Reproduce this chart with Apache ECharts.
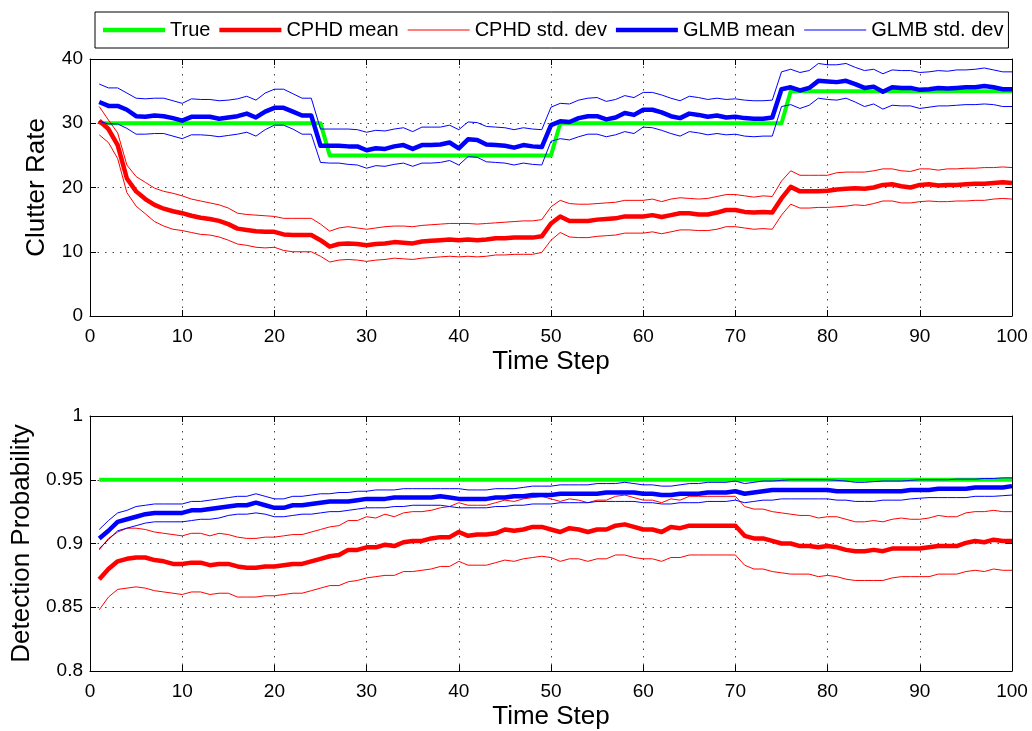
<!DOCTYPE html>
<html>
<head>
<meta charset="utf-8">
<title>Clutter rate and detection probability estimates</title>
<script src="https://cdn.jsdelivr.net/npm/echarts@6/dist/echarts.min.js"></script>
<style>
  html, body { margin: 0; padding: 0; background: #fff; }
  #chart { width: 1032px; height: 731px; }
</style>
</head>
<body>
<div id="chart"></div>
<script>
// ---- time axis ----
const timeSteps = Array.from({ length: 100 }, (_, i) => i + 1);
const xTicks = [0, 10, 20, 30, 40, 50, 60, 70, 80, 90, 100];
const clutterTicks = [0, 10, 20, 30, 40];
const pdTicks = [0.8, 0.85, 0.9, 0.95, 1];
const legendNames = ['True', 'CPHD mean', 'CPHD std. dev', 'GLMB mean', 'GLMB std. dev'];

// ---- clutter rate ----
const clutterTrue = [
  30,30,30,30,30,30,30,30,30,30, 30,30,30,30,30,30,30,30,30,30, 30,30,30,30,30,25,25,25,25,25,
  25,25,25,25,25,25,25,25,25,25, 25,25,25,25,25,25,25,25,25,25, 30,30,30,30,30,30,30,30,30,30,
  30,30,30,30,30,30,30,30,30,30, 30,30,30,30,30,35,35,35,35,35, 35,35,35,35,35,35,35,35,35,35,
  35,35,35,35,35,35,35,35,35,35
];
const clutterCphdMean = [
  30.4,29.1,26.6,21.4,19.4,18.2,17.3,16.7,16.3,16.0, 15.6,15.3,15.1,14.8,14.3,13.6,13.4,13.2,13.1,13.1,
  12.7,12.6,12.6,12.6,11.8,10.8,11.2,11.3,11.2,11.0, 11.2,11.3,11.5,11.4,11.3,11.6,11.7,11.8,11.9,11.8,
  11.9,11.8,11.9,12.1,12.1,12.2,12.2,12.2,12.4,14.4, 15.5,14.8,14.8,14.8,15.0,15.1,15.2,15.5,15.5,15.5,
  15.7,15.4,15.7,16.0,16.0,15.8,15.8,16.1,16.5,16.5, 16.2,16.1,16.2,16.1,18.3,20.1,19.4,19.4,19.4,19.5,
  19.7,19.8,19.9,19.8,20.0,20.4,20.5,20.2,20.0,20.4, 20.5,20.3,20.4,20.4,20.5,20.6,20.6,20.7,20.8,20.7
];
const clutterCphdUpper = [
  32.6,30.5,28.5,23.5,21.7,20.8,19.9,19.4,19.1,18.7, 18.2,17.9,17.6,17.3,16.8,16.0,15.8,15.7,15.6,15.5,
  15.2,15.2,15.2,15.2,14.3,13.2,13.7,13.9,13.7,13.5, 13.7,13.9,14.0,14.0,13.9,14.1,14.2,14.3,14.4,14.4,
  14.4,14.3,14.4,14.5,14.6,14.7,14.8,14.8,15.0,17.0, 18.0,17.5,17.4,17.4,17.5,17.6,17.7,18.0,18.0,18.0,
  18.2,17.8,18.2,18.4,18.3,18.2,18.3,18.6,18.9,18.9, 18.7,18.5,18.7,18.6,21.0,22.6,21.9,21.9,21.9,21.9,
  22.3,22.4,22.4,22.4,22.6,22.9,22.9,22.6,22.5,22.9, 22.9,22.7,22.9,22.9,23.0,23.0,23.1,23.1,23.2,23.1
];
const clutterCphdLower = [
  28.2,27.0,24.5,19.2,17.1,15.9,14.7,14.0,13.5,13.3, 13.0,12.7,12.6,12.3,11.8,11.2,11.0,10.7,10.6,10.7,
  10.2,10.0,10.0,10.0,9.3,8.4,8.7,8.8,8.7,8.5, 8.7,8.8,9.0,8.9,8.8,9.0,9.1,9.2,9.3,9.2,
  9.3,9.2,9.3,9.5,9.5,9.6,9.6,9.6,9.9,11.8, 13.0,12.3,12.2,12.2,12.4,12.5,12.6,12.9,12.9,12.9,
  13.1,12.8,13.1,13.4,13.4,13.3,13.3,13.5,13.9,13.9, 13.7,13.5,13.6,13.5,15.7,17.4,16.8,16.8,16.9,16.9,
  17.0,17.1,17.3,17.2,17.5,17.9,17.9,17.6,17.6,17.8, 17.9,17.8,17.8,17.9,17.9,18.0,18.0,18.2,18.3,18.2
];
const clutterGlmbMean = [
  33.3,32.7,32.7,32.1,31.1,31.0,31.2,31.1,30.8,30.4, 31.0,31.0,31.0,30.7,30.9,31.1,31.5,30.9,31.8,32.4,
  32.4,31.8,31.2,31.2,26.5,26.5,26.5,26.4,26.4,25.8, 26.1,26.0,26.4,26.6,26.0,26.6,26.6,26.7,27.0,26.1,
  27.5,27.4,26.7,26.6,26.5,26.2,26.6,26.4,26.3,29.7, 30.3,30.2,30.8,31.1,31.1,30.6,30.9,31.6,31.3,32.1,
  32.1,31.7,31.1,30.8,31.5,31.3,31.0,31.2,30.9,31.0, 30.8,30.7,30.7,30.9,35.3,35.6,35.1,35.5,36.6,36.5,
  36.4,36.6,36.1,35.5,35.7,34.9,35.6,35.5,35.5,35.2, 35.3,35.5,35.4,35.5,35.6,35.6,35.8,35.6,35.3,35.3
];
const clutterGlmbUpper = [
  36.1,35.5,35.5,34.7,33.9,33.8,33.9,33.9,33.5,33.1, 33.8,33.7,33.7,33.5,33.6,33.8,34.2,33.6,34.7,35.3,
  35.3,34.6,33.9,33.9,29.1,29.1,29.1,29.1,29.0,28.6, 28.9,28.8,29.1,29.3,28.7,29.4,29.4,29.4,29.7,29.0,
  30.2,30.1,29.5,29.4,29.3,29.0,29.3,29.1,29.0,32.5, 33.1,33.0,33.6,33.9,34.0,33.4,33.7,34.3,34.0,34.8,
  34.8,34.4,33.9,33.5,34.2,34.0,33.7,33.9,33.7,33.8, 33.6,33.5,33.5,33.6,38.0,38.4,37.9,38.2,39.3,39.1,
  39.1,39.3,38.7,38.2,38.4,37.7,38.3,38.2,38.2,37.9, 38.0,38.2,38.1,38.3,38.3,38.4,38.6,38.3,38.0,38.0
];
const clutterGlmbLower = [
  30.3,29.9,29.9,29.2,28.3,28.3,28.4,28.4,28.0,27.6, 28.2,28.2,28.1,27.9,28.1,28.3,28.6,28.0,29.0,29.7,
  29.7,29.1,28.3,28.3,23.9,23.8,23.8,23.6,23.5,23.0, 23.4,23.3,23.6,23.8,23.3,23.8,23.8,23.9,24.2,23.5,
  24.8,24.7,24.0,23.9,23.8,23.5,23.8,23.6,23.5,27.2, 27.6,27.4,27.9,28.3,28.3,27.9,28.2,28.7,28.4,29.4,
  29.3,28.9,28.4,28.0,28.7,28.5,28.2,28.4,28.2,28.3, 28.0,27.9,28.0,28.0,32.6,32.9,32.3,32.8,33.9,33.7,
  33.6,33.9,33.3,32.6,33.0,32.2,32.8,32.7,32.7,32.3, 32.5,32.7,32.7,32.8,32.9,32.9,33.0,32.9,32.6,32.6
];

// ---- detection probability ----
const pdTrue = [
  0.95,0.95,0.95,0.95,0.95,0.95,0.95,0.95,0.95,0.95, 0.95,0.95,0.95,0.95,0.95,0.95,0.95,0.95,0.95,0.95,
  0.95,0.95,0.95,0.95,0.95,0.95,0.95,0.95,0.95,0.95, 0.95,0.95,0.95,0.95,0.95,0.95,0.95,0.95,0.95,0.95,
  0.95,0.95,0.95,0.95,0.95,0.95,0.95,0.95,0.95,0.95, 0.95,0.95,0.95,0.95,0.95,0.95,0.95,0.95,0.95,0.95,
  0.95,0.95,0.95,0.95,0.95,0.95,0.95,0.95,0.95,0.95, 0.95,0.95,0.95,0.95,0.95,0.95,0.95,0.95,0.95,0.95,
  0.95,0.95,0.95,0.95,0.95,0.95,0.95,0.95,0.95,0.95, 0.95,0.95,0.95,0.95,0.95,0.95,0.95,0.95,0.95,0.95
];
const pdCphdMean = [
  0.872,0.880,0.886,0.888,0.889,0.889,0.887,0.886,0.884,0.884, 0.885,0.885,0.883,0.884,0.884,0.882,0.881,0.881,0.882,0.882,
  0.883,0.884,0.884,0.886,0.888,0.890,0.891,0.895,0.895,0.897, 0.897,0.899,0.898,0.901,0.902,0.902,0.904,0.905,0.905,0.909,
  0.906,0.907,0.907,0.908,0.911,0.910,0.911,0.913,0.913,0.911, 0.909,0.912,0.911,0.909,0.911,0.911,0.914,0.915,0.913,0.911,
  0.911,0.909,0.913,0.912,0.914,0.914,0.914,0.914,0.914,0.914, 0.906,0.904,0.904,0.902,0.900,0.900,0.898,0.898,0.897,0.898,
  0.897,0.895,0.894,0.894,0.895,0.894,0.896,0.896,0.896,0.896, 0.897,0.898,0.898,0.898,0.9005,0.902,0.901,0.903,0.902,0.902
];
const pdCphdUpper = [
  0.895,0.904,0.909,0.912,0.912,0.911,0.909,0.908,0.907,0.906, 0.908,0.908,0.906,0.908,0.907,0.905,0.904,0.904,0.905,0.905,
  0.906,0.907,0.907,0.909,0.911,0.913,0.914,0.918,0.918,0.921, 0.920,0.923,0.921,0.924,0.925,0.925,0.926,0.928,0.929,0.932,
  0.930,0.930,0.930,0.932,0.934,0.933,0.935,0.936,0.937,0.935, 0.933,0.935,0.934,0.932,0.934,0.934,0.937,0.938,0.936,0.934,
  0.934,0.932,0.935,0.934,0.937,0.937,0.937,0.937,0.937,0.937, 0.929,0.927,0.927,0.925,0.924,0.923,0.922,0.922,0.920,0.921,
  0.921,0.919,0.917,0.917,0.918,0.917,0.919,0.920,0.919,0.919, 0.920,0.922,0.921,0.921,0.924,0.925,0.925,0.926,0.925,0.925
];
const pdCphdLower = [
  0.848,0.858,0.864,0.865,0.866,0.865,0.863,0.862,0.861,0.860, 0.862,0.862,0.860,0.861,0.861,0.858,0.858,0.858,0.859,0.859,
  0.860,0.861,0.861,0.863,0.865,0.867,0.867,0.870,0.871,0.873, 0.874,0.875,0.875,0.878,0.878,0.879,0.880,0.882,0.882,0.886,
  0.883,0.883,0.883,0.885,0.887,0.886,0.888,0.889,0.890,0.889, 0.886,0.888,0.888,0.886,0.888,0.888,0.891,0.891,0.889,0.888,
  0.888,0.886,0.889,0.889,0.891,0.891,0.891,0.891,0.891,0.891, 0.883,0.880,0.880,0.878,0.877,0.876,0.876,0.876,0.874,0.875,
  0.874,0.872,0.871,0.871,0.871,0.871,0.873,0.874,0.874,0.874, 0.874,0.876,0.876,0.876,0.878,0.879,0.878,0.880,0.879,0.879
];
const pdGlmbMean = [
  0.904,0.910,0.917,0.919,0.921,0.923,0.924,0.924,0.924,0.924, 0.926,0.926,0.927,0.928,0.929,0.930,0.930,0.932,0.930,0.928,
  0.928,0.930,0.930,0.931,0.932,0.933,0.933,0.933,0.934,0.935, 0.935,0.935,0.936,0.936,0.936,0.936,0.936,0.937,0.936,0.935,
  0.935,0.935,0.935,0.936,0.936,0.937,0.937,0.938,0.938,0.938, 0.939,0.939,0.939,0.939,0.939,0.940,0.940,0.940,0.940,0.939,
  0.939,0.938,0.938,0.939,0.939,0.939,0.940,0.940,0.940,0.941, 0.939,0.940,0.941,0.942,0.942,0.942,0.942,0.942,0.942,0.942,
  0.941,0.941,0.941,0.941,0.941,0.941,0.941,0.941,0.942,0.942, 0.942,0.943,0.943,0.943,0.943,0.944,0.944,0.944,0.944,0.945
];
const pdGlmbUpper = [
  0.911,0.918,0.924,0.926,0.929,0.930,0.931,0.931,0.931,0.931, 0.933,0.933,0.934,0.935,0.936,0.937,0.937,0.939,0.937,0.935,
  0.935,0.937,0.937,0.938,0.939,0.939,0.940,0.940,0.941,0.941, 0.942,0.942,0.942,0.943,0.943,0.943,0.943,0.943,0.943,0.943,
  0.942,0.942,0.942,0.943,0.943,0.943,0.944,0.945,0.945,0.945, 0.946,0.946,0.946,0.946,0.947,0.947,0.947,0.948,0.947,0.946,
  0.946,0.945,0.945,0.946,0.947,0.947,0.948,0.948,0.948,0.949, 0.947,0.948,0.949,0.949,0.9495,0.950,0.950,0.950,0.950,0.950,
  0.9495,0.949,0.948,0.948,0.9485,0.949,0.949,0.949,0.9495,0.950, 0.950,0.950,0.950,0.9505,0.9505,0.9505,0.951,0.951,0.9515,0.9515
];
const pdGlmbLower = [
  0.896,0.903,0.910,0.912,0.914,0.916,0.917,0.917,0.917,0.917, 0.918,0.919,0.919,0.920,0.922,0.923,0.923,0.924,0.923,0.921,
  0.921,0.922,0.923,0.923,0.924,0.925,0.925,0.926,0.927,0.928, 0.928,0.928,0.929,0.929,0.930,0.930,0.930,0.930,0.929,0.928,
  0.928,0.928,0.928,0.929,0.929,0.930,0.930,0.931,0.931,0.931, 0.932,0.932,0.932,0.932,0.933,0.933,0.933,0.933,0.933,0.932,
  0.932,0.931,0.931,0.932,0.932,0.932,0.933,0.933,0.933,0.934, 0.932,0.933,0.934,0.934,0.935,0.935,0.935,0.935,0.935,0.935,
  0.934,0.934,0.933,0.933,0.933,0.934,0.934,0.934,0.935,0.9355, 0.936,0.936,0.936,0.936,0.936,0.937,0.937,0.937,0.9375,0.938
];

// ---- styling ----
const FONT = '"Liberation Sans", Arial, Helvetica, sans-serif';
const GREEN = '#00ff00', RED = '#ff0000', BLUE = '#0000ff';
const THICK = 4.5, THIN = 1;

// legend swatches: plain horizontal bars, thick for means/truth, thin for std. dev
const ICON_THICK = 'path://M0,0H62V4.5H0Z';
const ICON_THIN = 'path://M0,0H62V1.2H0Z';

const pair = arr => timeSteps.map((t, i) => [t, arr[i]]);

function lineSeries(name, values, color, width, axisIdx, z) {
  return {
    name, type: 'line', data: pair(values),
    xAxisIndex: axisIdx, yAxisIndex: axisIdx,
    symbol: 'none', smooth: false, z,
    lineStyle: { color, width, join: 'round', cap: 'butt' },
    itemStyle: { color },
    emphasis: { disabled: true }
  };
}

const dotted = { show: true, lineStyle: { color: '#444', width: 1, type: [1.5, 6] } };

function mainX(grid, name) {
  return {
    gridIndex: grid, type: 'value', position: 'bottom',
    min: xTicks[0], max: xTicks[xTicks.length - 1], interval: 10,
    axisLine: { show: true, onZero: false, lineStyle: { color: '#000', width: 1 } },
    axisTick: { show: true, inside: true, length: 6, lineStyle: { color: '#000' } },
    axisLabel: { show: true, color: '#000', fontSize: 19, fontFamily: FONT, margin: 11 },
    splitLine: dotted,
    name, nameLocation: 'middle', nameGap: 33,
    nameTextStyle: { color: '#000', fontSize: 26, fontFamily: FONT }
  };
}
function boxX(grid) {
  return {
    gridIndex: grid, type: 'value', position: 'top',
    min: xTicks[0], max: xTicks[xTicks.length - 1], interval: 10,
    axisLine: { show: true, onZero: false, lineStyle: { color: '#000', width: 1 } },
    axisTick: { show: true, inside: true, length: 6, lineStyle: { color: '#000' } },
    axisLabel: { show: false }, splitLine: { show: false }
  };
}
function mainY(grid, ticks, name) {
  return {
    gridIndex: grid, type: 'value', position: 'left',
    min: ticks[0], max: ticks[ticks.length - 1], interval: ticks[1] - ticks[0],
    axisLine: { show: true, onZero: false, lineStyle: { color: '#000', width: 1 } },
    axisTick: { show: true, inside: true, length: 6, lineStyle: { color: '#000' } },
    axisLabel: { show: true, color: '#000', fontSize: 19, fontFamily: FONT, margin: 7,
      formatter: v => String(+v.toFixed(2)) },
    splitLine: dotted,
    name, nameLocation: 'middle', nameGap: 40, nameRotate: 90,
    nameTextStyle: { color: '#000', fontSize: 26, fontFamily: FONT }
  };
}
function boxY(grid, ticks) {
  return {
    gridIndex: grid, type: 'value', position: 'right',
    min: ticks[0], max: ticks[ticks.length - 1], interval: ticks[1] - ticks[0],
    axisLine: { show: true, onZero: false, lineStyle: { color: '#000', width: 1 } },
    axisTick: { show: true, inside: true, length: 6, lineStyle: { color: '#000' } },
    axisLabel: { show: false }, splitLine: { show: false }
  };
}

const legendIcons = [ICON_THICK, ICON_THICK, ICON_THIN, ICON_THICK, ICON_THIN];

const option = {
  animation: false,
  backgroundColor: '#fff',
  textStyle: { fontFamily: FONT },
  legend: {
    data: legendNames.map((name, i) => ({ name, icon: legendIcons[i] })),
    left: 95, top: 12,
    orient: 'horizontal',
    itemWidth: 62, itemHeight: 14, itemGap: 9,
    symbolKeepAspect: true,
    padding: [8, 5, 8, 8],
    borderColor: '#000', borderWidth: 1,
    backgroundColor: '#fff',
    itemStyle: { borderWidth: 0 },
    textStyle: { color: '#000', fontSize: 20, fontFamily: FONT },
    selectedMode: false
  },
  grid: [
    { left: 90, right: 20, top: 59, height: 257 },
    { left: 90, right: 20, top: 416, height: 257 }
  ],
  xAxis: [mainX(0, 'Time Step'), boxX(0), mainX(1, 'Time Step'), boxX(1)],
  yAxis: [mainY(0, clutterTicks, 'Clutter Rate'), boxY(0, clutterTicks),
          mainY(1, pdTicks, 'Detection Probability'), boxY(1, pdTicks)],
  series: [
    // clutter rate panel
    lineSeries('True', clutterTrue, GREEN, 4, 0, 2),
    lineSeries('CPHD mean', clutterCphdMean, RED, THICK, 0, 3),
    lineSeries('CPHD std. dev', clutterCphdUpper, RED, THIN, 0, 4),
    lineSeries('CPHD std. dev', clutterCphdLower, RED, THIN, 0, 4),
    lineSeries('GLMB mean', clutterGlmbMean, BLUE, THICK, 0, 5),
    lineSeries('GLMB std. dev', clutterGlmbUpper, BLUE, THIN, 0, 6),
    lineSeries('GLMB std. dev', clutterGlmbLower, BLUE, THIN, 0, 6),
    // detection probability panel
    lineSeries('True', pdTrue, GREEN, 4, 2, 2),
    lineSeries('CPHD mean', pdCphdMean, RED, THICK, 2, 3),
    lineSeries('CPHD std. dev', pdCphdUpper, RED, THIN, 2, 4),
    lineSeries('CPHD std. dev', pdCphdLower, RED, THIN, 2, 4),
    lineSeries('GLMB mean', pdGlmbMean, BLUE, THICK, 2, 5),
    lineSeries('GLMB std. dev', pdGlmbUpper, BLUE, THIN, 2, 6),
    lineSeries('GLMB std. dev', pdGlmbLower, BLUE, THIN, 2, 6)
  ]
};

const chart = echarts.init(document.getElementById('chart'), null, { renderer: 'canvas' });
chart.setOption(option);
</script>
</body>
</html>
